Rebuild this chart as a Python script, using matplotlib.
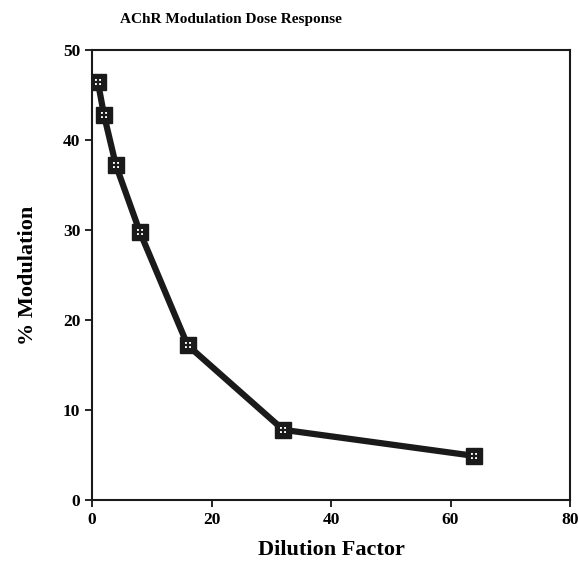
import matplotlib.pyplot as plt

# Dose response data
dilucion = [1, 2, 4, 8, 16, 32, 64]
modulacion = [46.4, 42.8, 37.2, 29.8, 17.2, 7.8, 4.9]

plt.rcParams['font.family'] = ['Liberation Serif', 'DejaVu Serif']

fig = plt.figure(figsize=(5.79, 5.64), dpi=100)
ax = fig.add_axes([92 / 579, 64 / 564, 478 / 579, 450 / 564])

ax.plot(dilucion, modulacion, color="#1a1a1a", linewidth=4.5, zorder=2)
# marker: black square with four small white dots
ax.plot(dilucion, modulacion, linestyle="none", marker="s", markersize=12,
        markerfacecolor="#1a1a1a", markeredgecolor="#1a1a1a", zorder=3)
ax.plot(dilucion, modulacion, linestyle="none", marker="s", markersize=5,
        markerfacecolor="white", markeredgewidth=0, zorder=4)
ax.plot(dilucion, modulacion, linestyle="none", marker="+", markersize=6,
        markeredgecolor="#1a1a1a", markeredgewidth=1.6, zorder=5)

ax.set_xlim(0, 80)
ax.set_ylim(0, 50)
ax.set_xticks([0, 20, 40, 60, 80])
ax.set_yticks([0, 10, 20, 30, 40, 50])
ax.tick_params(direction="out", length=5, width=1.2, labelsize=12.5)
for lab in ax.get_xticklabels() + ax.get_yticklabels():
    lab.set_fontweight("bold")
for s in ax.spines.values():
    s.set_linewidth(1.5)
    s.set_color("#1a1a1a")

ax.set_xlabel("Dilution Factor", fontsize=16, fontweight="bold", labelpad=9)
ax.set_ylabel("% Modulation", fontsize=16, fontweight="bold", labelpad=18)
fig.text(120 / 579, 1 - 20 / 564, "AChR Modulation Dose Response",
         fontsize=11, fontweight="bold", ha="left", va="center")

fig.savefig("out.png", dpi=100)
